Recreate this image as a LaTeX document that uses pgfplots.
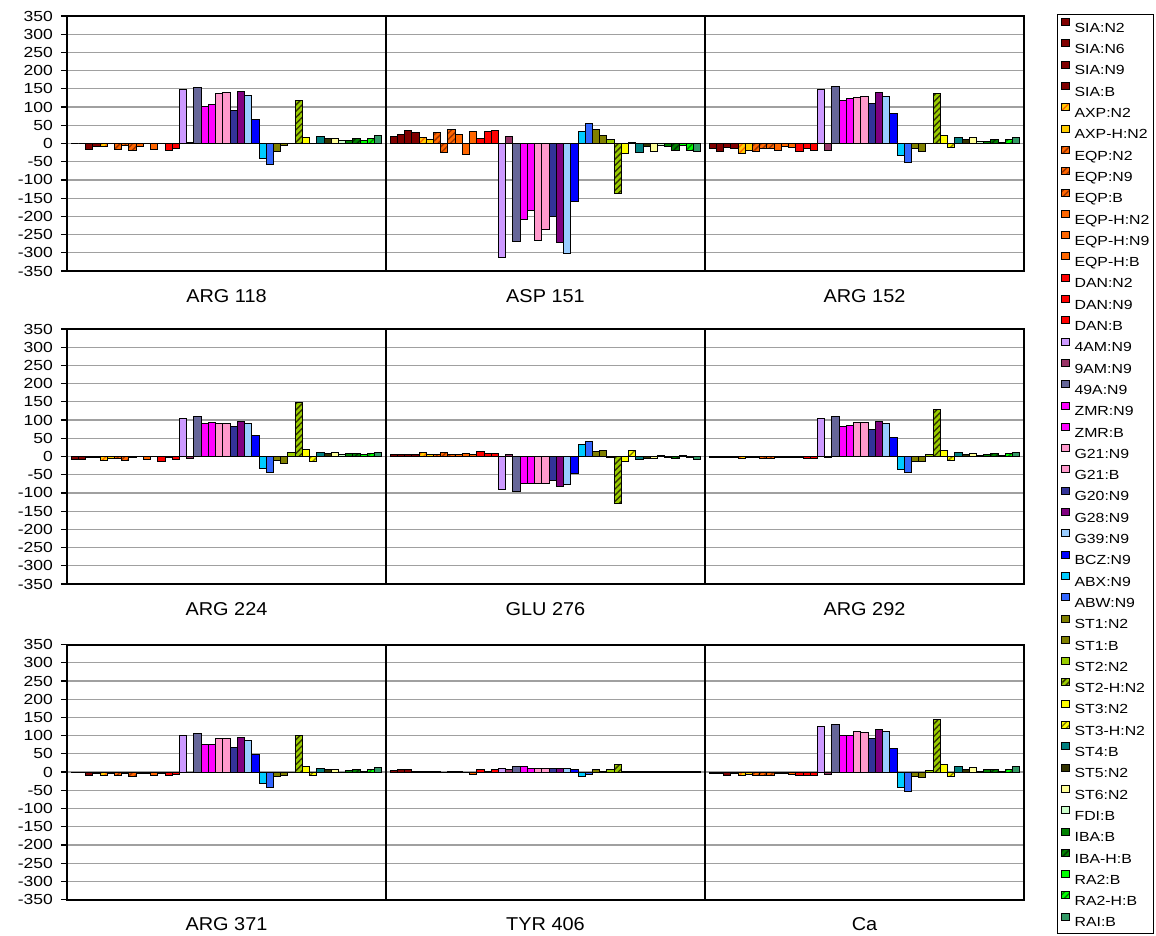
\documentclass[border=0pt]{standalone}
\usepackage{pgfplots}
\pgfplotsset{compat=1.18}
\usepackage{pgfplotstable}
\usetikzlibrary{patterns,patterns.meta}
\usepackage{fontspec}
\setmainfont{Liberation Sans}
\newfontfamily\ytf{Liberation Sans}[FakeStretch=1.2]
\newfontfamily\lgf{Liberation Sans}[FakeStretch=1.2]
\newfontfamily\xlf{Liberation Sans}[FakeStretch=1.07]

\definecolor{cSIA}{HTML}{800000}
\definecolor{cAXP}{HTML}{FFCC00}
\definecolor{cEQP}{HTML}{FF6600}
\definecolor{cEQPd}{HTML}{993300}
\definecolor{cDAN}{HTML}{FF0000}
\definecolor{c4AM}{HTML}{CC99FF}
\definecolor{c9AM}{HTML}{993366}
\definecolor{c49A}{HTML}{666699}
\definecolor{cZMR}{HTML}{FF00FF}
\definecolor{cG21}{HTML}{FF99CC}
\definecolor{cG20}{HTML}{333399}
\definecolor{cG28}{HTML}{800080}
\definecolor{cG39}{HTML}{99CCFF}
\definecolor{cBCZ}{HTML}{0000FF}
\definecolor{cABX}{HTML}{00CCFF}
\definecolor{cABW}{HTML}{3366FF}
\definecolor{cST1}{HTML}{808000}
\definecolor{cST2}{HTML}{99CC00}
\definecolor{cST2d}{HTML}{333300}
\definecolor{cST3}{HTML}{FFFF00}
\definecolor{cST4}{HTML}{008080}
\definecolor{cST5}{HTML}{333300}
\definecolor{cST6}{HTML}{FFFF99}
\definecolor{cFDI}{HTML}{CCFFCC}
\definecolor{cIBA}{HTML}{008000}
\definecolor{cIBAd}{HTML}{003300}
\definecolor{cRA2}{HTML}{00FF00}
\definecolor{cRAI}{HTML}{339966}
\definecolor{gridc}{HTML}{A0A0A0}

% rows: series; columns: the three residues of the panel row
\pgfplotstableread{
id  a    b    c
s1  0    20   -15
s2  0    25   -21
s3  -17  36   -12
s4  -9   30   -15
s5  -7   17   -28
s6  0    10   -18
s7  -17  31   -21
s8  -6   -24  -15
s9  -19  38   -15
s10 -9   25   -18
s11 0    -29  -9
s12 -17  33   -12
s13 0    14   -21
s14 -19  33   -15
s15 -13  35   -18
s16 148  -312 149
s17 3    20   -18
s18 155  -270 156
s19 101  -208 117
s20 107  -183 123
s21 136  -267 125
s22 141  -237 129
s23 91   -200 109
s24 142  -273 139
s25 133  -301 130
s26 65   -159 83
s27 -42  33   -33
s28 -58  55   -52
s29 -22  38   -15
s30 -5   22   -21
s31 0    12   0
s32 118  -138 137
s33 17   -28  22
s34 0    3    -12
s35 18   -24  17
s36 15   -9   10
s37 15   -21  17
s38 7    -6   6
s39 9    -9   6
s40 15   -18  11
s41 7    -6   4
s42 13   -18  11
s43 21   -21  17
}\rawA
\pgfplotstableread{
id  a    b    c
s1  -7   6    -2
s2  -7   6    -3
s3  -2   5    -3
s4  -2   5    -3
s5  -10  11   -5
s6  -5   6    -2
s7  -5   6    -3
s8  -10  11   -5
s9  -2   6    -5
s10 0    5    -2
s11 -7   9    -3
s12 0    5    -2
s13 -14  13   -3
s14 -2   9    -5
s15 -7   9    -5
s16 105  -90  105
s17 -5   6    -3
s18 110  -97  110
s19 90   -75  83
s20 94   -75  86
s21 90   -75  94
s22 90   -73  94
s23 83   -65  73
s24 95   -82  95
s25 91   -77  91
s26 58   -46  52
s27 -34  33   -37
s28 -45  41   -45
s29 -10  15   -15
s30 -18  17   -13
s31 11   -3   5
s32 148  -130 129
s33 20   -15  17
s34 -13  17   -10
s35 11   -7   12
s36 8    -5   6
s37 11   -5   8
s38 5    4    2
s39 7    -3   5
s40 7    -5   8
s41 5    4    2
s42 7    -3   7
s43 12   -7   12
}\rawB
\pgfplotstableread{
id  a    b    c
s1  -2   4    -3
s2  -2   6    -3
s3  -8   6    -8
s4  -3   3    -3
s5  -8   3    -10
s6  -3   3    -6
s7  -8   3    -10
s8  -3   0    -10
s9  -11  3    -10
s10 -3   3    -3
s11 -3   0    -3
s12 -8   -6   -6
s13 -3   6    -10
s14 -10  3    -10
s15 -7   6    -10
s16 101  10   124
s17 -2   6    -6
s18 105  16   132
s19 76   16   100
s20 76   10   100
s21 92   10   111
s22 92   10   108
s23 67   10   92
s24 94   11   116
s25 88   10   111
s26 49   8    65
s27 -30  -13  -42
s28 -42  -6   -53
s29 -13  6    -13
s30 -10  3    -16
s31 0    8    4
s32 101  21   145
s33 15   1    20
s34 -8   1    -13
s35 11   1    15
s36 8    1    8
s37 8    1    12
s38 0    1    2
s39 4    1    6
s40 8    1    8
s41 1    1    2
s42 6    1    8
s43 12   1    15
}\rawC
\pgfplotstabletranspose[colnames from=id]{\tabA}{\rawA}
\pgfplotstabletranspose[colnames from=id]{\tabB}{\rawB}
\pgfplotstabletranspose[colnames from=id]{\tabC}{\rawC}

\newcommand{\lb}[1]{\makebox[38pt][l]{#1}}

\pgfplotsset{
  hatch/.style={postaction={pattern color=#1,pattern={Lines[angle=45,distance=2.2pt,line width=0.7pt]}}},
  ser1/.style={fill=cSIA}, ser2/.style={fill=cSIA}, ser3/.style={fill=cSIA}, ser4/.style={fill=cSIA},
  ser5/.style={fill=cAXP,hatch=cEQP}, ser6/.style={fill=cAXP},
  ser7/.style={fill=cEQP,hatch=cEQPd}, ser8/.style={fill=cEQP,hatch=cEQPd}, ser9/.style={fill=cEQP,hatch=cEQPd},
  ser10/.style={fill=cEQP}, ser11/.style={fill=cEQP}, ser12/.style={fill=cEQP},
  ser13/.style={fill=cDAN}, ser14/.style={fill=cDAN}, ser15/.style={fill=cDAN},
  ser16/.style={fill=c4AM}, ser17/.style={fill=c9AM}, ser18/.style={fill=c49A},
  ser19/.style={fill=cZMR}, ser20/.style={fill=cZMR},
  ser21/.style={fill=cG21}, ser22/.style={fill=cG21},
  ser23/.style={fill=cG20}, ser24/.style={fill=cG28}, ser25/.style={fill=cG39},
  ser26/.style={fill=cBCZ}, ser27/.style={fill=cABX}, ser28/.style={fill=cABW},
  ser29/.style={fill=cST1}, ser30/.style={fill=cST1},
  ser31/.style={fill=cST2}, ser32/.style={fill=cST2,hatch=cST2d},
  ser33/.style={fill=cST3}, ser34/.style={fill=cST3,hatch=cST1},
  ser35/.style={fill=cST4}, ser36/.style={fill=cST5}, ser37/.style={fill=cST6},
  ser38/.style={fill=cFDI}, ser39/.style={fill=cIBA}, ser40/.style={fill=cIBA,hatch=cIBAd},
  ser41/.style={fill=cRA2}, ser42/.style={fill=cRA2,hatch=cIBA}, ser43/.style={fill=cRAI},
  legimg/.style={legend image code/.code={\draw[##1,line width=0.5pt] (0pt,0.6pt) rectangle (4pt,4.1pt);}},
  rowax/.style={
    scale only axis, width=478.5pt, height=127.5pt,
    anchor=north west,
    ybar=0pt, bar width=3.613pt,
    xmin=-0.5, xmax=2.5, ymin=-350, ymax=350,
    xtick={0,1,2}, ytick={-350,-300,...,350},
    tick align=outside, xtick pos=bottom, ytick pos=left,
    major tick length=3pt,
    xtick style={draw=none},
    ytick style={draw=black, line width=0.6pt},
    ymajorgrids,
    major grid style={draw=gridc, line width=0.6pt},
    extra x ticks={0.5,1.5}, extra x tick labels={},
    extra x tick style={grid=major, major grid style={draw=black, line width=1pt}},
    axis line style={line width=1pt},
    /pgf/number format/assume math mode=true,
    yticklabel style={font=\ytf\fontsize{7.3}{7.3}\selectfont, xshift=-0.5pt},
    xticklabel style={font=\xlf\fontsize{9.3}{10}\selectfont, yshift=-2.5pt},
    every axis plot/.append style={draw=black, line width=0.5pt},
  },
}

\begin{document}
\begin{tikzpicture}
\useasboundingbox (0pt,0pt) rectangle (578pt,-468pt);
\begin{axis}[rowax, at={(33.5pt,-8pt)}, xticklabels={ARG 118,ASP 151,ARG 152},
  legend cell align=left,
  legend style={at={(axis description cs:1.03448,1.00784)}, anchor=north west,
    font=\lgf\fontsize{6.6}{7}\selectfont, draw=black, line width=0.6pt,
    inner xsep=1.5pt, inner ysep=0.8pt, row sep=0pt, column sep=2.5pt,
    nodes={inner sep=0pt, text height=8.05pt, text depth=2.6pt}},
  legend entries={\lb{SIA:N2},\lb{SIA:N6},\lb{SIA:N9},\lb{SIA:B},\lb{AXP:N2},\lb{AXP-H:N2},
    \lb{EQP:N2},\lb{EQP:N9},\lb{EQP:B},\lb{EQP-H:N2},\lb{EQP-H:N9},\lb{EQP-H:B},
    \lb{DAN:N2},\lb{DAN:N9},\lb{DAN:B},\lb{4AM:N9},\lb{9AM:N9},\lb{49A:N9},
    \lb{ZMR:N9},\lb{ZMR:B},\lb{G21:N9},\lb{G21:B},\lb{G20:N9},\lb{G28:N9},\lb{G39:N9},
    \lb{BCZ:N9},\lb{ABX:N9},\lb{ABW:N9},\lb{ST1:N2},\lb{ST1:B},\lb{ST2:N2},\lb{ST2-H:N2},
    \lb{ST3:N2},\lb{ST3-H:N2},\lb{ST4:B},\lb{ST5:N2},\lb{ST6:N2},\lb{FDI:B},\lb{IBA:B},
    \lb{IBA-H:B},\lb{RA2:B},\lb{RA2-H:B},\lb{RAI:B}}]
\pgfplotsinvokeforeach{1,...,43}{\addplot[ser#1,legimg] table[x expr=\coordindex,y=s#1]{\tabA};}
\end{axis}
\begin{axis}[rowax, at={(33.5pt,-164.5pt)}, xticklabels={ARG 224,GLU 276,ARG 292}]
\pgfplotsinvokeforeach{1,...,43}{\addplot[ser#1] table[x expr=\coordindex,y=s#1]{\tabB};}
\end{axis}
\begin{axis}[rowax, at={(33.5pt,-322.3pt)}, xticklabels={ARG 371,TYR 406,Ca}]
\pgfplotsinvokeforeach{1,...,43}{\addplot[ser#1] table[x expr=\coordindex,y=s#1]{\tabC};}
\end{axis}
\end{tikzpicture}
\end{document}
